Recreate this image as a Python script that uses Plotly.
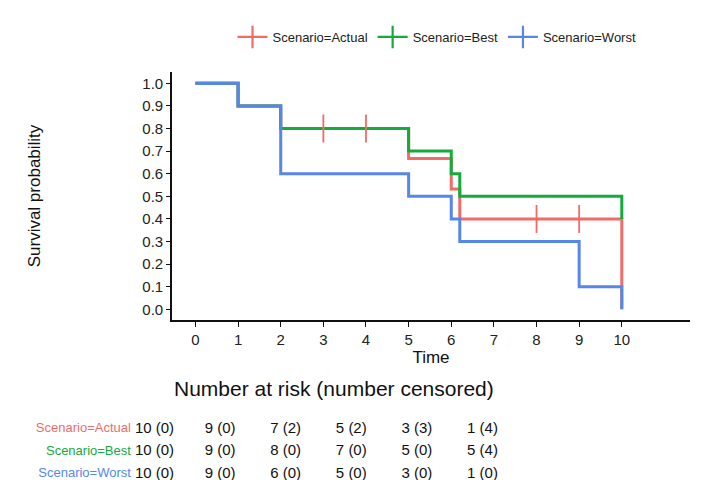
import plotly.graph_objects as go

# ---- data ----
scenarios = ["Scenario=Actual", "Scenario=Best", "Scenario=Worst"]
colors = ["#F16B67", "#14AA3C", "#5687E8"]

actual_time = [0, 1, 2, 5, 6, 6.2, 10]
actual_surv = [1.0, 0.9, 0.8, 0.667, 0.533, 0.4, 0.0]
actual_cens_time = [3, 4, 8, 9]
actual_cens_surv = [0.8, 0.8, 0.4, 0.4]

best_time = [0, 1, 2, 5, 6, 6.2, 10]
best_surv = [1.0, 0.9, 0.8, 0.7, 0.6, 0.5, 0.4]

worst_time = [0, 1, 2, 5, 6, 6.2, 9, 10]
worst_surv = [1.0, 0.9, 0.6, 0.5, 0.4, 0.3, 0.1, 0.0]

risk_times = [0, 2, 4, 6, 8, 10]
risk_actual = ["10 (0)", "9 (0)", "7 (2)", "5 (2)", "3 (3)", "1 (4)"]
risk_best = ["10 (0)", "9 (0)", "8 (0)", "7 (0)", "5 (0)", "5 (4)"]
risk_worst = ["10 (0)", "9 (0)", "6 (0)", "5 (0)", "3 (0)", "1 (0)"]

x_ticks = list(range(0, 11))
y_ticks = [round(0.1 * i, 1) for i in range(11)]

FONT = "Liberation Sans, Arial, sans-serif"
W, H = 725, 480

fig = go.Figure()

curves = [(actual_time, actual_surv), (best_time, best_surv), (worst_time, worst_surv)]
for (t, s), c, name in zip(curves, colors, scenarios):
    fig.add_trace(go.Scatter(x=t, y=s, mode="lines", line=dict(color=c, width=3, shape="hv"),
                             showlegend=False, hoverinfo="skip", name=name))

# censor marks
fig.add_trace(go.Scatter(x=actual_cens_time, y=actual_cens_surv, mode="markers",
                         marker=dict(symbol="line-ns-open", size=20, color=colors[0],
                                     line=dict(color=colors[0], width=1.8)),
                         showlegend=False, hoverinfo="skip"))

# legend entries
for c, name in zip(colors, scenarios):
    fig.add_trace(go.Scatter(x=[None], y=[None], mode="lines+markers", name=name,
                             line=dict(color=c, width=2.2),
                             marker=dict(symbol="line-ns-open", size=16, color=c,
                                         line=dict(color=c, width=2.2))))

# risk table
rows = [risk_actual, risk_best, risk_worst]
row_y = [3, 2, 1]
for vals, yv in zip(rows, row_y):
    fig.add_trace(go.Scatter(x=risk_times, y=[yv] * len(risk_times), mode="text", text=vals,
                             textposition="middle center", xaxis="x2", yaxis="y2",
                             textfont=dict(size=15, color="#111111", family=FONT),
                             showlegend=False, hoverinfo="skip", cliponaxis=False))
label_x = -0.72
fig.add_trace(go.Scatter(x=[label_x] * 3, y=row_y, mode="text", text=scenarios,
                         textposition="middle left", xaxis="x2", yaxis="y2",
                         textfont=dict(size=13, color=colors, family=FONT),
                         showlegend=False, hoverinfo="skip", cliponaxis=False))

px0, px1 = 172, 690
py0, py1 = 72, 320
# table axis: time 0 -> 154.5px, 10 -> 482.5px
t_left = -0.8
tx0 = 154.5 + 32.8 * t_left
fig.update_layout(
    width=W, height=H,
    margin=dict(l=0, r=0, t=0, b=0),
    paper_bgcolor="white", plot_bgcolor="white",
    font=dict(family=FONT, color="#111111"),
    xaxis=dict(domain=[px0 / W, px1 / W], range=[-0.55, 11.6], tickvals=x_ticks,
               showgrid=False, zeroline=False, showline=True, linecolor="#111111", linewidth=1.6,
               ticks="outside", ticklen=5, tickwidth=1.4, tickcolor="#111111",
               tickfont=dict(size=15, color="#222222"),
               title=dict(text="Time", font=dict(size=17), standoff=1), anchor="y"),
    yaxis=dict(domain=[(H - py1) / H, (H - py0) / H], range=[-0.047, 1.05], tickvals=y_ticks,
               tickformat=".1f",
               showgrid=False, zeroline=False, showline=True, linecolor="#111111", linewidth=1.6,
               ticks="outside", ticklen=4, tickwidth=1.4, tickcolor="#111111",
               tickfont=dict(size=15, color="#222222"),
               title=dict(text="Survival probability", font=dict(size=17), standoff=97), anchor="x"),
    xaxis2=dict(domain=[tx0 / W, 482.5 / W], range=[t_left, 10], visible=False, anchor="y2"),
    yaxis2=dict(domain=[(H - 476.25) / H, (H - 417.75) / H], range=[0.9, 3.5], visible=False, anchor="x2"),
    legend=dict(orientation="h", x=437 / W, xanchor="center", y=(H - 37) / H, yanchor="middle",
                font=dict(size=13, color="#222222"), bgcolor="rgba(0,0,0,0)"),
    annotations=[dict(text="Number at risk (number censored)", xref="paper", yref="paper",
                      x=px0 / W, y=(H - 388) / H, xanchor="left", yanchor="middle",
                      showarrow=False, font=dict(size=21, color="#111111"))],
)

fig.write_html("out.html", config={"displayModeBar": False},
               post_script="document.body.style.margin='0';document.body.style.overflow='hidden';")
